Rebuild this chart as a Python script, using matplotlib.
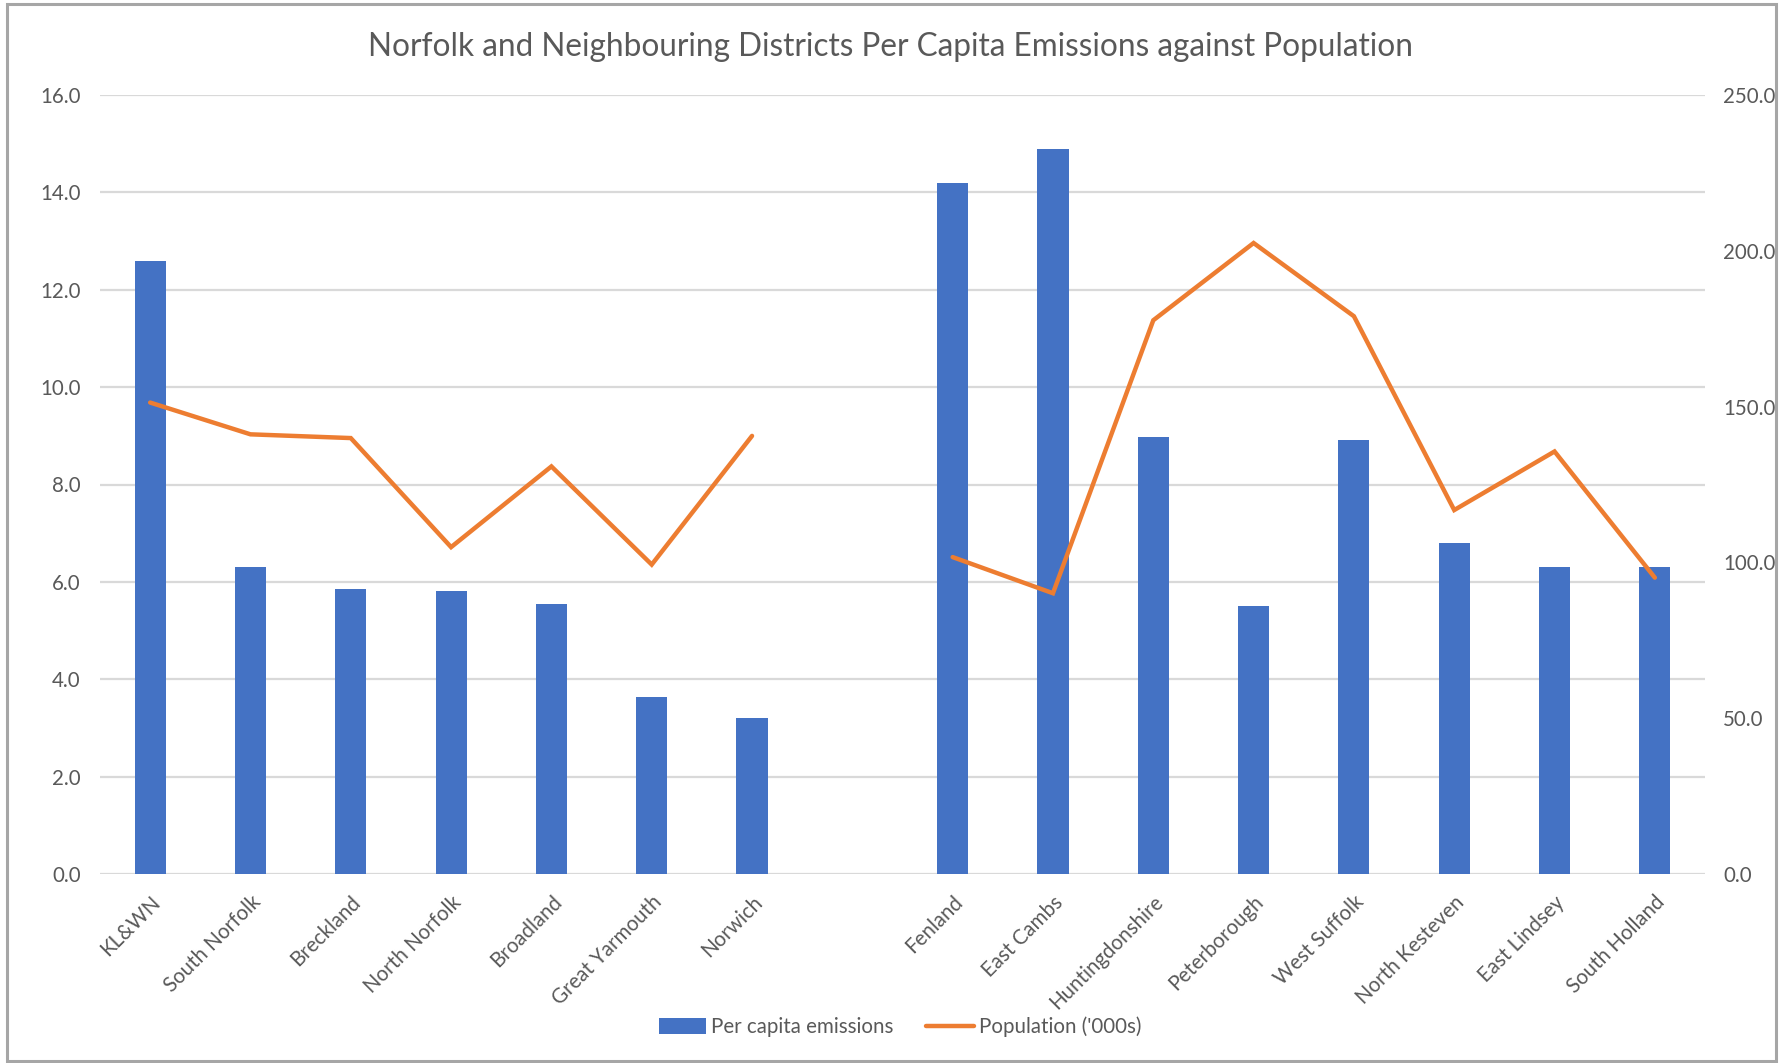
import numpy as np
import matplotlib.pyplot as plt
from matplotlib.patches import Rectangle

# Districts (an empty slot separates Norfolk from its neighbours)
districts = ["KL&WN", "South Norfolk", "Breckland", "North Norfolk", "Broadland",
             "Great Yarmouth", "Norwich", "",
             "Fenland", "East Cambs", "Huntingdonshire", "Peterborough",
             "West Suffolk", "North Kesteven", "East Lindsey", "South Holland"]

per_capita_emissions = [12.6, 6.3, 5.86, 5.82, 5.54, 3.64, 3.21, np.nan,
                        14.2, 14.9, 8.98, 5.50, 8.91, 6.80, 6.30, 6.30]

population_000s = [151.3, 141.1, 139.9, 104.9, 130.8, 99.3, 140.6, np.nan,
                   101.7, 90.1, 177.7, 202.5, 179.0, 116.8, 135.6, 95.1]

left_ticks = [0, 2, 4, 6, 8, 10, 12, 14, 16]
right_ticks = [0, 50, 100, 150, 200, 250]

BLUE = "#4472C4"
ORANGE = "#ED7D31"
TEXT = "#595959"
GRID = "#D9D9D9"
FONT = "Lato"
FS = 14.8

fig = plt.figure(figsize=(17.82, 10.63), dpi=100)
ax = fig.add_axes([100 / 1782, 1 - 874 / 1063, 1605 / 1782, (874 - 95) / 1063])

x = np.arange(len(districts))
ax.bar(x, per_capita_emissions, width=0.31, color=BLUE, zorder=2,
       label="Per capita emissions")
ax.set_xlim(-0.5, len(districts) - 0.5)
ax.set_ylim(0, 16)
ax.set_yticks(left_ticks)
ax.set_yticklabels([f"{v:.1f}" for v in left_ticks], fontsize=FS,
                   color=TEXT, family=FONT)
ax.yaxis.grid(True, color=GRID, linewidth=1.6, zorder=0)
ax.set_axisbelow(True)
ax.tick_params(axis="both", length=0)
ax.tick_params(axis="y", pad=14)
ax.set_xticks(x)
ax.set_xticklabels(districts, rotation=45, ha="right", rotation_mode="anchor",
                   fontsize=FS, color=TEXT, family=FONT)
ax.tick_params(axis="x", pad=13)
for s in ax.spines.values():
    s.set_visible(False)

ax2 = ax.twinx()
ax2.plot(x, population_000s, color=ORANGE, linewidth=3.2,
         solid_capstyle="round", solid_joinstyle="miter", zorder=3,
         label="Population ('000s)")
ax2.set_ylim(0, 250)
ax2.set_yticks(right_ticks)
ax2.set_yticklabels([f"{v:.1f}" for v in right_ticks], fontsize=FS,
                    color=TEXT, family=FONT)
ax2.tick_params(axis="y", length=0, pad=13)
for s in ax2.spines.values():
    s.set_visible(False)

fig.text(0.5, 1 - 47 / 1063,
         "Norfolk and Neighbouring Districts Per Capita Emissions against Population",
         ha="center", va="center", fontsize=22.7, color=TEXT, family=FONT)

h1, l1 = ax.get_legend_handles_labels()
h2, l2 = ax2.get_legend_handles_labels()
fig.legend(h1 + h2, l1 + l2, loc="center", bbox_to_anchor=(0.505, 1 - 1027 / 1063),
           ncol=2, frameon=False, labelcolor=TEXT,
           prop={"family": FONT, "size": FS}, handlelength=2.3,
           handleheight=0.8, handletextpad=0.25, columnspacing=1.6)

# Chart frame
fig.patches.append(Rectangle((7 / 1782, 2 / 1063), 1769 / 1782, 1057 / 1063,
                             transform=fig.transFigure, fill=False,
                             edgecolor="#A6A6A6", linewidth=2.2))

fig.savefig("out.png", dpi=100, facecolor="white")
